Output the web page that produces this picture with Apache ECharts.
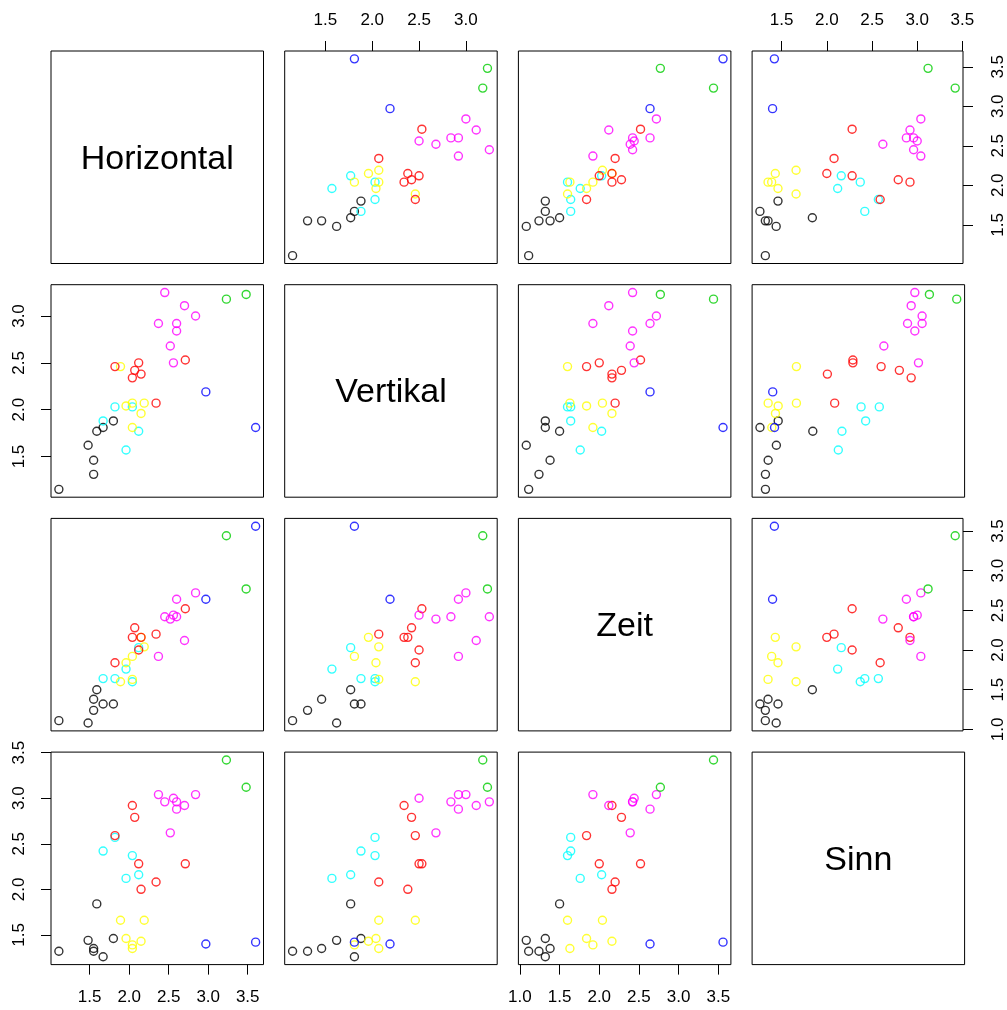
<!DOCTYPE html>
<html><head><meta charset="utf-8">
<script src="https://cdn.jsdelivr.net/npm/echarts@6/dist/echarts.min.js"></script>
<style>html,body{margin:0;padding:0;background:#fff}#c{width:1007px;height:1010px}</style>
</head><body><div id="c"></div>
<script>
const varNames = ["Horizontal", "Vertikal", "Zeit", "Sinn"];
const groupColors = ["#000000", "#00FFFF", "#FFFF00", "#FF0000", "#FF00FF", "#0000FF", "#00CD00"];
const group = [0,0,0,0,0,0,0, 1,1,1,1,1, 2,2,2,2,2,2, 3,3,3,3,3,3,3, 4,4,4,4,4,4,4,4, 5,5, 6,6];
const Horizontal = [1.11,1.55,1.55,1.48,1.59,1.67,1.80, 1.96,2.12,2.04,1.82,1.67, 2.04,2.15,2.19,2.04,1.96,1.89, 2.34,2.71,2.15,2.04,2.07,2.12,1.82, 2.56,2.52,2.60,2.60,2.84,2.70,2.45,2.37, 3.60,2.97, 3.48,3.23];
const Vertikal   = [1.15,1.31,1.46,1.62,1.77,1.81,1.88, 1.57,1.77,2.03,2.03,1.88, 1.81,1.96,2.07,2.07,2.04,2.46, 2.07,2.53,2.38,2.34,2.42,2.50,2.46, 2.50,2.68,2.84,2.92,3.00,3.11,3.25,2.92, 1.81,2.19, 3.23,3.18];
const Zeit       = [1.11,1.24,1.38,1.08,1.50,1.32,1.32, 1.76,2.03,1.60,1.64,1.64, 1.92,2.16,2.04,1.63,1.84,1.60, 2.20,2.52,2.16,2.16,2.28,2.00,1.84, 2.44,2.39,2.42,2.64,2.72,2.12,2.42,1.92, 3.56,2.64, 2.77,3.44];
const Sinn       = [1.32,1.32,1.35,1.44,1.84,1.26,1.46, 2.12,2.16,2.37,2.57,2.42, 1.39,1.43,1.66,1.35,1.46,1.66, 2.08,2.28,2.00,2.92,2.79,2.28,2.59, 3.00,2.62,2.96,2.88,3.04,2.92,2.96,3.04, 1.42,1.40, 3.12,3.42];
const ticksH = [1.5, 2.0, 2.5, 3.0, 3.5];
const ticksV = [1.5, 2.0, 2.5, 3.0];
const ticksZ = [1.0, 1.5, 2.0, 2.5, 3.0, 3.5];
const ticksS = [1.5, 2.0, 2.5, 3.0, 3.5];

const vars = [Horizontal, Vertikal, Zeit, Sinn];
const ticks = [ticksH, ticksV, ticksZ, ticksS];
const ranges = vars.map(a => {
  const mn = Math.min(...a), mx = Math.max(...a), r = mx - mn;
  return [mn - 0.04 * r, mx + 0.04 * r];
});

const FONT = "Liberation Sans";
const step = 233.7, size = 212.5, off = 51;
const grids = [], xAxes = [], yAxes = [], series = [], graphics = [];
let k = 0;
for (let i = 0; i < 4; i++) {
  for (let j = 0; j < 4; j++) {
    grids.push({left: off + j * step, top: off + i * step, width: size, height: size,
      show: true, borderColor: "#000", borderWidth: 1, backgroundColor: "transparent", containLabel: false});
    const showTop = (i === 0 && (j === 1 || j === 3));
    const showBottom = (i === 3 && (j === 0 || j === 2));
    const showLeft = (j === 0 && (i === 1 || i === 3));
    const showRight = (j === 3 && (i === 0 || i === 2));
    const xOn = i !== j && (showTop || showBottom);
    const yOn = i !== j && (showLeft || showRight);
    xAxes.push({gridIndex: k, type: "value", min: ranges[j][0], max: ranges[j][1],
      position: showTop ? "top" : "bottom",
      axisLine: {show: false}, splitLine: {show: false},
      axisTick: {show: xOn, customValues: ticks[j], length: 10, lineStyle: {color: "#000", width: 1}},
      axisLabel: {show: xOn, customValues: ticks[j], formatter: v => Number(v).toFixed(1),
        color: "#000", fontFamily: FONT, fontSize: 17, margin: showTop ? 22 : 24}});
    yAxes.push({gridIndex: k, type: "value", min: ranges[i][0], max: ranges[i][1],
      position: showRight ? "right" : "left",
      axisLine: {show: false}, splitLine: {show: false},
      axisTick: {show: yOn, customValues: ticks[i], length: 10, lineStyle: {color: "#000", width: 1}},
      axisLabel: {show: yOn, customValues: ticks[i], formatter: v => Number(v).toFixed(1), rotate: 90,
        color: "#000", fontFamily: FONT, fontSize: 17, margin: showRight ? 27 : 23}});
    if (i === j) {
      graphics.push({type: "text", x: off + j * step + size / 2, y: off + i * step + size / 2 + 2,
        style: {text: varNames[i], font: "34px " + FONT, fill: "#000", textAlign: "center", textVerticalAlign: "middle"}});
    } else {
      const data = vars[j].map((x, n) => ({value: [x, vars[i][n]],
        itemStyle: {color: "rgba(0,0,0,0)", borderColor: groupColors[group[n]], borderWidth: 1.4}}));
      series.push({type: "scatter", xAxisIndex: k, yAxisIndex: k, symbol: "circle", symbolSize: 8,
        data: data, silent: true, animation: false});
    }
    k++;
  }
}
const chart = echarts.init(document.getElementById("c"), null, {renderer: "canvas"});
chart.setOption({animation: false, backgroundColor: "#fff", grid: grids, xAxis: xAxes, yAxis: yAxes,
  series: series, graphic: graphics});
</script></body></html>
